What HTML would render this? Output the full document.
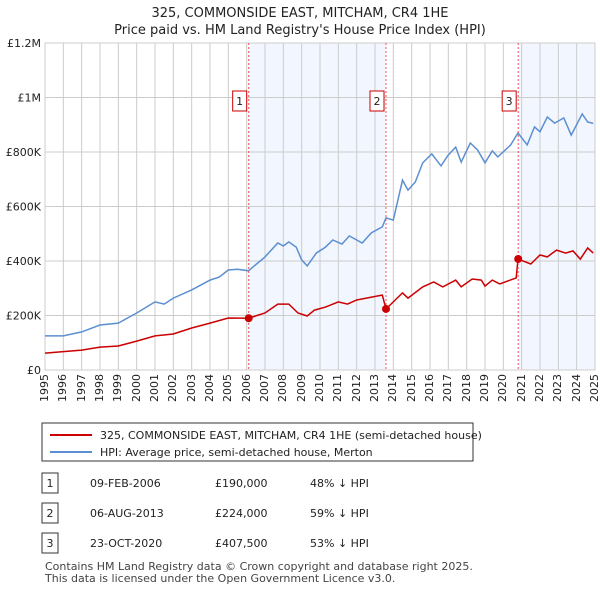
<!DOCTYPE html>
<html><head><meta charset="utf-8"><style>
body{margin:0;background:#fff;font-family:"Liberation Sans","DejaVu Sans",sans-serif;}
#wrap{position:relative;width:600px;height:590px;overflow:hidden;}
svg text{font-family:"DejaVu Sans","Liberation Sans",sans-serif;}
.xl{position:absolute;font:11px "DejaVu Sans","Liberation Sans",sans-serif;color:#222;width:40px;height:14px;line-height:14px;text-align:right;transform-origin:0 0;transform:rotate(-90deg);white-space:nowrap;}
</style></head><body>
<div id="wrap">
<svg id="c" width="600" height="590" xmlns="http://www.w3.org/2000/svg" style="position:absolute;left:0;top:0">
<text x="300" y="17" text-anchor="middle" font-size="13" fill="#222">325, COMMONSIDE EAST, MITCHAM, CR4 1HE</text>
<text x="300" y="34" text-anchor="middle" font-size="13" fill="#222">Price paid vs. HM Land Registry's House Price Index (HPI)</text>
<g id="bands"></g><g id="grid"></g><g id="axes"></g><g id="lines"></g><g id="marks"></g>
<rect x="42" y="423" width="431" height="38" fill="#fff" stroke="#333"/>
<line x1="50" y1="435" x2="92" y2="435" stroke="#cc0000" stroke-width="2"/>
<text x="100" y="439" font-size="11" fill="#222">325, COMMONSIDE EAST, MITCHAM, CR4 1HE (semi-detached house)</text>
<line x1="50" y1="452" x2="92" y2="452" stroke="#5b8fd1" stroke-width="2"/>
<text x="100" y="456" font-size="11" fill="#222">HPI: Average price, semi-detached house, Merton</text>
<g id="table" font-size="11" fill="#222"></g>
<text x="45" y="570" font-size="11" fill="#444">Contains HM Land Registry data © Crown copyright and database right 2025.</text>
<text x="45" y="582" font-size="11" fill="#444">This data is licensed under the Open Government Licence v3.0.</text>
</svg>
</div>
<script>
const hpiYears=[1995,1996,1997,1998,1999,2000,2001,2001.5,2002,2003,2004,2004.5,2005,2005.5,2006.1,2007,2007.7,2008,2008.3,2008.7,2009,2009.3,2009.8,2010.3,2010.7,2011.2,2011.6,2012.3,2012.8,2013.4,2013.6,2014,2014.5,2014.8,2015.2,2015.6,2016.1,2016.6,2017,2017.4,2017.7,2018.2,2018.6,2019,2019.4,2019.7,2020.4,2020.8,2021.3,2021.7,2022,2022.4,2022.8,2023.3,2023.7,2024.3,2024.6,2024.9];
const hpiValues=[125,125,140,165,172,209,250,242,264,294,330,341,367,370,364,415,466,455,470,451,404,382,429,451,477,462,492,466,503,525,558,550,697,660,690,760,793,749,789,818,763,833,807,760,804,782,826,870,826,892,874,928,906,925,862,940,910,905];
const priceYears=[1995,1997,1998,1999,2000,2001,2002,2003,2004,2005,2006.1,2007,2007.7,2008.3,2008.8,2009.3,2009.7,2010.3,2011,2011.5,2012,2013.4,2013.6,2014.5,2014.8,2015.6,2016.2,2016.7,2017.4,2017.7,2018.3,2018.8,2019,2019.4,2019.8,2020.7,2020.8,2021.5,2022,2022.4,2022.9,2023.4,2023.8,2024.2,2024.6,2024.9];
const priceValues=[62,73,84,88,106,125,132,154,172,191,190,209,242,242,209,198,220,231,250,242,257,275,224,283,264,305,323,305,330,305,334,330,308,330,316,338,407.5,389,422,415,440,429,437,407,448,429];
const saleYears=[2006.11,2013.6,2020.81];
const saleValues=[190,224,407.5];
const saleLabels=["1","2","3"];
const saleDates=["09-FEB-2006","06-AUG-2013","23-OCT-2020"];
const salePrices=["£190,000","£224,000","£407,500"];
const saleDiffs=["48% ↓ HPI","59% ↓ HPI","53% ↓ HPI"];
const yTicks=[0,200,400,600,800,1000,1200];
const yTickLabels=["£0","£200K","£400K","£600K","£800K","£1M","£1.2M"];
const xTicks=[1995,1996,1997,1998,1999,2000,2001,2002,2003,2004,2005,2006,2007,2008,2009,2010,2011,2012,2013,2014,2015,2016,2017,2018,2019,2020,2021,2022,2023,2024,2025];

const NS="http://www.w3.org/2000/svg";
const L=45,R=595,T=43,B=370;
const X=y=>L+(y-1995)/30*(R-L);
const Y=v=>B-v/1200*(B-T);
function mk(p,tag,at){const e=document.createElementNS(NS,tag);for(const k in at)e.setAttribute(k,at[k]);document.getElementById(p).appendChild(e);return e;}
const bandEnds=[saleYears[1],2025];
[0,2].forEach((i,j)=>{const e=mk('bands','rect',{x:X(saleYears[i]),y:T,width:X(bandEnds[j])-X(saleYears[i]),height:B-T,fill:'#eef3fd',opacity:0.75});

});
yTicks.forEach((v,i)=>{const g=mk('grid','line',{x1:L,x2:R,y1:Y(v),y2:Y(v),stroke:'#ccc'});


const t=mk('axes','text',{x:L-4,y:Y(v)+4,'text-anchor':'end','font-size':11,fill:'#222'});t.textContent=yTickLabels[i];

});
const wrap=document.getElementById('wrap');
xTicks.forEach(y=>{const g=mk('grid','line',{x1:X(y),x2:X(y),y1:T,y2:B,stroke:'#ccc'});


const d=document.createElement('div');
d.className='xl';
d.textContent=y;
d.style.left=(X(y)-7)+'px';
d.style.top=(B+44)+'px';


wrap.appendChild(d);});
const ax=mk('axes','rect',{x:L,y:T,width:R-L,height:B-T,fill:'none',stroke:'#ccc'});


const pts=(xs,vs)=>xs.map((x,i)=>X(x).toFixed(1)+','+Y(vs[i]).toFixed(1)).join(' ');
const h=mk('lines','polyline',{points:pts(hpiYears,hpiValues),fill:'none',stroke:'#5b8fd1','stroke-width':1.5});


const p=mk('lines','polyline',{points:pts(priceYears,priceValues),fill:'none',stroke:'#cc0000','stroke-width':1.5});


saleYears.forEach((s,i)=>{const v=mk('marks','line',{x1:X(s),x2:X(s),y1:T,y2:B,stroke:'#e55','stroke-dasharray':'2,2'});


const d=mk('marks','circle',{cx:X(s),cy:Y(saleValues[i]),r:4,fill:'#cc0000'});


const b=mk('marks','rect',{x:X(s)-16,y:91,width:14,height:20,fill:'#fff',stroke:'#cc0000'});


const t=mk('marks','text',{x:X(s)-9,y:105,'text-anchor':'middle','font-size':11,fill:'#222'});t.textContent=saleLabels[i];


const ry=483+i*30;
const tb=mk('table','rect',{x:42,y:ry-10,width:16,height:20,fill:'#fff',stroke:'#333'});


const cells=[[50,saleLabels[i],'middle'],[90,saleDates[i],'start'],[215,salePrices[i],'start'],[310,saleDiffs[i],'start']];
cells.forEach(c=>{const e=mk('table','text',{x:c[0],y:ry+4,'text-anchor':c[2],'font-size':11,fill:'#222'});e.textContent=c[1];

});});
</script>
</body></html>
